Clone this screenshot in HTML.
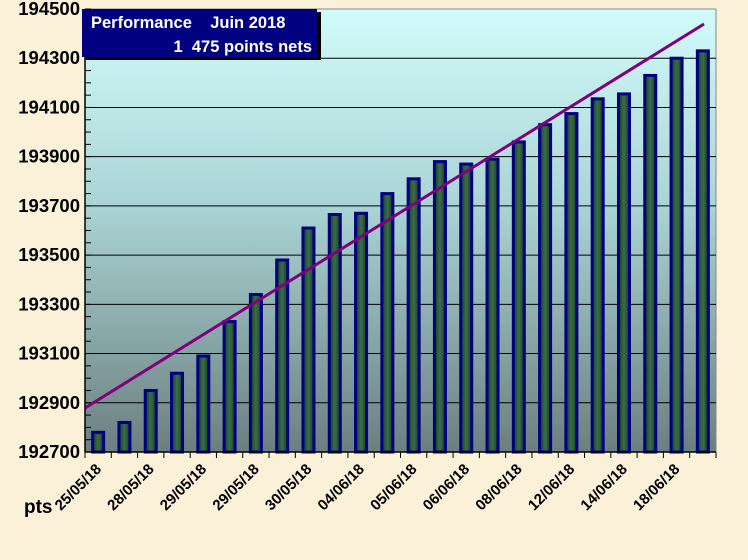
<!DOCTYPE html>
<html><head><meta charset="utf-8"><style>
html,body{margin:0;padding:0;}
body{width:748px;height:555px;background:#fbf0d8;overflow:hidden;font-family:"Liberation Sans",sans-serif;}
</style></head><body>
<svg width="748" height="555" viewBox="0 0 748 555" xmlns="http://www.w3.org/2000/svg">
<defs>
<linearGradient id="bg" x1="0" y1="0" x2="0" y2="1">
<stop offset="0" stop-color="#d2fbfb"/>
<stop offset="0.45" stop-color="#a9d3d4"/>
<stop offset="1" stop-color="#6c7f80"/>
</linearGradient>
<linearGradient id="bar" x1="0" y1="0" x2="1" y2="0">
<stop offset="0" stop-color="#163d22"/>
<stop offset="0.5" stop-color="#3a6e4a"/>
<stop offset="1" stop-color="#163d22"/>
</linearGradient>
</defs>
<rect width="748" height="555" fill="#fbf0d8"/>
<rect x="85" y="9" width="631" height="443" fill="url(#bg)" stroke="#888" stroke-width="1"/>
<g id="grid" stroke="#000" stroke-width="1"></g>
<g id="bars"></g>
<line x1="85" y1="408" x2="704" y2="24" stroke="#800080" stroke-width="3"/>
<line x1="85" y1="9" x2="85" y2="452" stroke="#000" stroke-width="1.5"/>
<line x1="85" y1="452" x2="716" y2="452" stroke="#000" stroke-width="1.5"/>
<g id="ticks" stroke="#000" stroke-width="1"></g>
<g id="ylab" font-size="18.5" font-weight="bold" fill="#000" text-anchor="end"></g>
<g id="xlab" font-size="15" font-weight="bold" fill="#000"></g>
<text x="24" y="513" font-size="19" font-weight="bold">pts</text>
<rect x="86" y="12" width="235" height="48" fill="#000"/>
<rect x="82" y="9" width="235" height="48" fill="#000080"/>
<text x="91" y="28" font-size="16.5" font-weight="bold" fill="#fff" xml:space="preserve">Performance    Juin 2018</text>
<text x="312" y="52" font-size="16.5" font-weight="bold" fill="#fff" text-anchor="end" xml:space="preserve">1  475 points nets</text>
</svg>
<script>
var ns="http://www.w3.org/2000/svg";
function el(t,a,p,txt){var e=document.createElementNS(ns,t);for(var k in a)e.setAttribute(k,a[k]);if(txt)e.textContent=txt;document.getElementById(p).appendChild(e);}
function Y(v){return 452-(v-192700)*443/1800;}
for(var v=192900;v<194500;v+=200)el("line",{x1:85,x2:716,y1:Y(v),y2:Y(v)},"grid");
for(var v=192700;v<=194500;v+=200)el("text",{x:80,y:Y(v)+6},"ylab",String(v));
for(var v=192700;v<=194500;v+=50)el("line",{x1:85,x2:91,y1:Y(v),y2:Y(v)},"ticks");
var vals=[192780,192820,192950,193020,193090,193230,193340,193480,193610,193665,193670,193750,193810,193880,193870,193890,193960,194030,194075,194135,194155,194230,194300,194330];
var w=631/24;
for(var i=0;i<=24;i++)el("line",{x1:85+i*w,x2:85+i*w,y1:452,y2:458},"ticks");
var labs=["25/05/18","28/05/18","29/05/18","29/05/18","30/05/18","04/06/18","05/06/18","06/06/18","08/06/18","12/06/18","14/06/18","18/06/18"];
for(var i=0;i<24;i++){var cx=85+w*(i+0.5);var y=Y(vals[i]);
el("rect",{x:cx-5.5,y:y,width:11,height:452-y,fill:"url(#bar)",stroke:"#000080","stroke-width":3},"bars");}
for(var j=0;j<12;j++){var cx=85+w*(2*j+0.5)+4;
el("text",{x:cx,y:470,"text-anchor":"end",transform:"rotate(-45 "+cx+" 470)"},"xlab",labs[j]);}
</script>
</body></html>
